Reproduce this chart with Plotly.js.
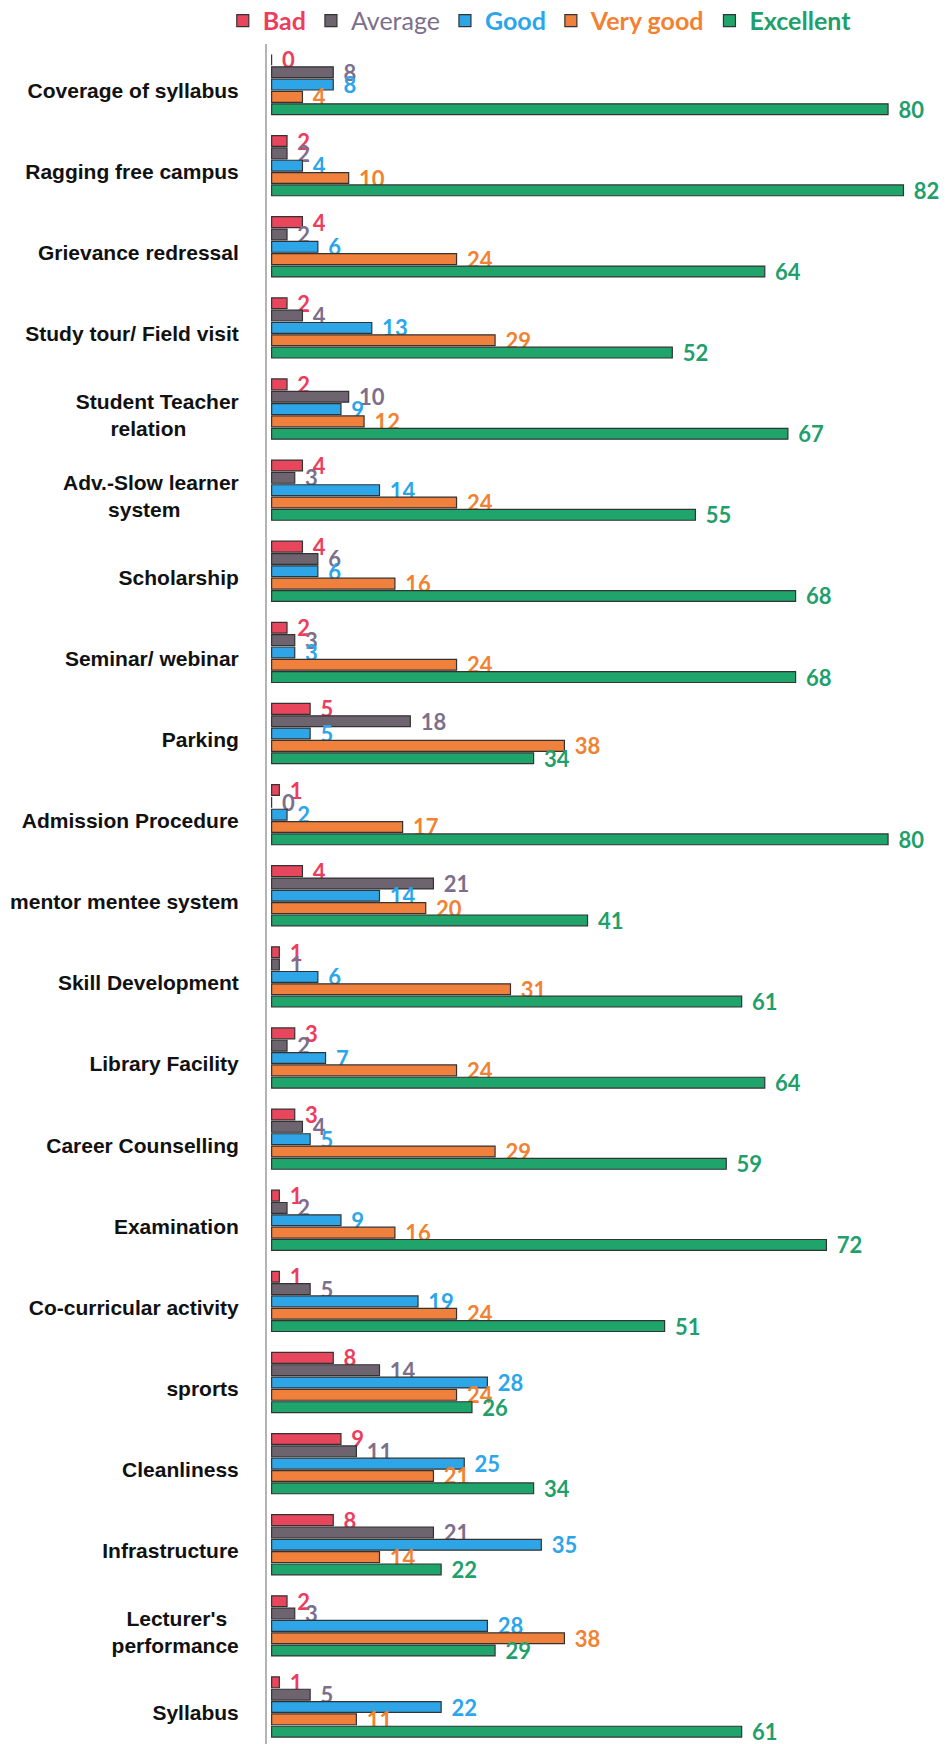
<!DOCTYPE html>
<html>
<head>
<meta charset="utf-8">
<script src="https://cdn.plot.ly/plotly-3.0.1.min.js"></script>
<style>
  html, body { margin: 0; padding: 0; background: #ffffff; }
  #chart { width: 947px; height: 1744px; }
</style>
</head>
<body>
<div id="chart"></div>
<script>
// ---- Data ----
const NB = "\u00a0";
const categories = [
  "Coverage of syllabus",
  "Ragging free campus",
  "Grievance redressal",
  "Study tour/ Field visit",
  "Student Teacher<br>relation" + NB.repeat(9),
  "Adv.-Slow learner<br>system" + NB.repeat(10),
  "Scholarship",
  "Seminar/ webinar",
  "Parking",
  "Admission Procedure",
  "mentor mentee system",
  "Skill Development",
  "Library Facility",
  "Career Counselling",
  "Examination",
  "Co-curricular activity",
  "sprorts",
  "Cleanliness",
  "Infrastructure",
  "Lecturer's" + NB.repeat(2) + "<br>performance",
  "Syllabus"
];
const seriesNames = ["Bad", "Average", "Good", "Very good", "Excellent"];
const bad      = [0, 2, 4, 2, 2, 4, 4, 2, 5, 1, 4, 1, 3, 3, 1, 1, 8, 9, 8, 2, 1];
const average  = [8, 2, 2, 4, 10, 3, 6, 3, 18, 0, 21, 1, 2, 4, 2, 5, 14, 11, 21, 3, 5];
const good     = [8, 4, 6, 13, 9, 14, 6, 3, 5, 2, 14, 6, 7, 5, 9, 19, 28, 25, 35, 28, 22];
const veryGood = [4, 10, 24, 29, 12, 24, 16, 24, 38, 17, 20, 31, 24, 29, 16, 24, 24, 21, 14, 38, 11];
const excellent= [80, 82, 64, 52, 67, 55, 68, 68, 34, 80, 41, 61, 64, 59, 72, 51, 26, 34, 22, 29, 61];

const seriesValues = [bad, average, good, veryGood, excellent];
const barColors   = ["#e8465c", "#6e6470", "#2ea5e6", "#f0813c", "#1fa46c"];
const labelColors = ["#ee3d5c", "#7d6f8c", "#2ba6ea", "#f28231", "#1f9f6c"];
const legendBold  = [true, false, true, true, true];

const traces = seriesNames.map((name, i) => ({
  type: "bar",
  orientation: "h",
  name: '<span style="color:' + labelColors[i] + '">' + (legendBold[i] ? "<b>" + name + "</b>" : name) + '</span>',
  y: categories,
  x: seriesValues[i],
  marker: { color: barColors[i], line: { color: "#333333", width: 1.2 } },
  text: seriesValues[i].map(v => "\u2004" + v),
  textposition: "outside",
  constraintext: "none",
  cliponaxis: false,
  textfont: { family: "Lato, 'Open Sans', sans-serif", size: 22, color: labelColors[i], weight: "bold" },
  hoverinfo: "x+y+name"
}));

const layout = {
  width: 947,
  height: 1744,
  margin: { l: 267, r: 5, t: 44, b: 0, pad: 0 },
  paper_bgcolor: "#ffffff",
  plot_bgcolor: "#ffffff",
  barmode: "group",
  bargap: 0.24,
  bargroupgap: 0.12,
  showlegend: true,
  legend: {
    orientation: "h",
    xref: "container",
    yref: "container",
    x: 0.570,
    xanchor: "center",
    y: 0.988,
    yanchor: "middle",
    font: { family: "Lato, 'Open Sans', sans-serif", size: 25, color: "#333" },
    traceorder: "normal",
    bgcolor: "rgba(0,0,0,0)"
  },
  xaxis: {
    range: [-0.6, 87],
    showgrid: false,
    zeroline: false,
    showticklabels: false,
    showline: false,
    ticks: ""
  },
  yaxis: {
    type: "category",
    range: [20.456, -0.5],
    showgrid: false,
    zeroline: false,
    showline: true,
    linecolor: "#b4b4b4",
    linewidth: 2,
    ticks: "",
    ticklabelstandoff: 22,
    ticklabelshift: -6,
    tickfont: { family: "'Liberation Sans', Arial, sans-serif", size: 21, color: "#111", weight: "bold" }
  }
};

Plotly.newPlot("chart", traces, layout, { displayModeBar: false, staticPlot: true });
</script>
</body>
</html>
